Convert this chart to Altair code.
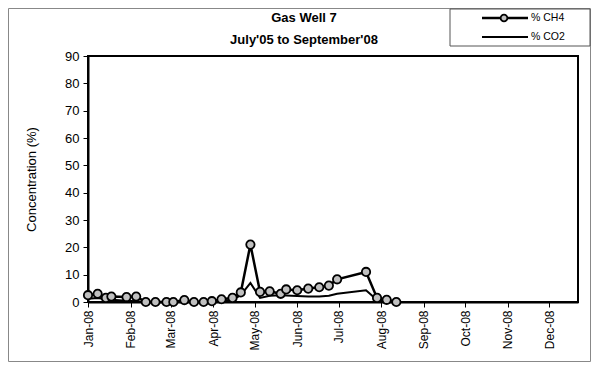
import altair as alt
import pandas as pd

dates = ["2008-01-01", "2008-01-08", "2008-01-14", "2008-01-18", "2008-01-29",
         "2008-02-05", "2008-02-12", "2008-02-19", "2008-02-27", "2008-03-03",
         "2008-03-11", "2008-03-18", "2008-03-25", "2008-03-31", "2008-04-07",
         "2008-04-15", "2008-04-21", "2008-04-28", "2008-05-05", "2008-05-12",
         "2008-05-20", "2008-05-24", "2008-06-01", "2008-06-09", "2008-06-17",
         "2008-06-24", "2008-06-30", "2008-07-21", "2008-07-29", "2008-08-05",
         "2008-08-12"]
ch4 = [2.5, 3.0, 1.5, 2.0, 1.8, 2.0, 0, 0, 0, 0, 0.7, 0, 0, 0.3, 1.0, 1.5, 3.5,
       21.0, 3.7, 3.9, 3.0, 4.6, 4.3, 4.9, 5.4, 6.0, 8.3, 11.0, 1.5, 0.8, 0]
co2 = [1.2, 1.5, 1.0, 0.8, 0.5, 0.3, 0, 0, 0, 0, 0.2, 0, 0, 0, 0.3, 0.8, 2.5,
       7.0, 1.5, 2.3, 2.5, 2.4, 2.2, 2.0, 2.0, 2.3, 3.0, 4.3, 0.7, 0.3, 0]
y_ticks = [0, 10, 20, 30, 40, 50, 60, 70, 80, 90]
month_ticks = [alt.DateTime(year=2008, month=m, date=1, utc=True) for m in range(1, 13)]
title_lines = ["Gas Well 7", "July'05 to September'08"]
legend_labels = ["% CH4", "% CO2"]

df = pd.DataFrame({"date": dates, "ch4": ch4, "co2": co2})

FONT = "Arial, Liberation Sans"

x = alt.X("date:T",
          scale=alt.Scale(type="utc",
                          domain=[alt.DateTime(year=2008, month=1, date=1, utc=True),
                                  alt.DateTime(year=2008, month=12, date=22, utc=True)]),
          axis=alt.Axis(values=month_ticks, labelExpr="utcFormat(datum.value, '%b-%y')",
                        labelAngle=270, labelAlign="right", labelBaseline="middle",
                        labelFontSize=12, labelPadding=3, tickSize=5, tickColor="black",
                        domainColor="black", domainWidth=2, grid=False, title=None,
                        labelColor="black", labelFont=FONT))
yax = alt.Axis(values=y_ticks, labelFontSize=13, tickSize=5, tickColor="black",
               domainColor="black", domainWidth=2, grid=False,
               title="Concentration (%)", titleFontSize=13, titleFontWeight="normal",
               titleFont=FONT, labelFont=FONT, labelColor="black", titleColor="black",
               titlePadding=26, labelPadding=4)

base = alt.Chart(df)
yscale = alt.Scale(domain=[0, 90])

co2_line = base.mark_line(color="black", strokeWidth=2).encode(
    x=x, y=alt.Y("co2:Q", scale=yscale, axis=yax))
ch4_line = base.mark_line(color="black", strokeWidth=2.5).encode(
    x=x, y=alt.Y("ch4:Q", scale=yscale, axis=yax))
ch4_pts = base.mark_point(shape="circle", filled=True, fill="#c0c0c0", stroke="black",
                          strokeWidth=1.8, size=70, opacity=1).encode(
    x=x, y=alt.Y("ch4:Q", scale=yscale, axis=yax))

one = alt.Data(values=[{"k": 1}])

frame = alt.Chart(one).mark_rect(fill=None, stroke="#888888", strokeWidth=1).encode(
    x=alt.value(-79.5), x2=alt.value(502.5), y=alt.value(-47.5), y2=alt.value(305.5))

title_df = pd.DataFrame({"t": title_lines, "y": [-38, -16]})
title_txt = alt.Chart(title_df).mark_text(
    align="center", baseline="middle", fontSize=13, fontWeight="bold", font=FONT,
    color="black").encode(x=alt.value(216), y=alt.Y("y:Q", scale=None, axis=None), text="t:N")

leg_box = alt.Chart(one).mark_rect(fill="white", stroke="#555555", strokeWidth=1).encode(
    x=alt.value(362), x2=alt.value(502), y=alt.value(-47), y2=alt.value(-10))
leg_l1 = alt.Chart(one).mark_rule(color="black", strokeWidth=2.5).encode(
    x=alt.value(394), x2=alt.value(440), y=alt.value(-38))
leg_p1 = alt.Chart(one).mark_point(shape="circle", filled=True, fill="#c0c0c0",
                                   stroke="black", strokeWidth=1.8, size=45, opacity=1).encode(
    x=alt.value(416), y=alt.value(-38))
leg_l2 = alt.Chart(one).mark_rule(color="black", strokeWidth=2).encode(
    x=alt.value(394), x2=alt.value(440), y=alt.value(-19))
leg_t = alt.Chart(pd.DataFrame({"t": legend_labels, "y": [-38, -19]})).mark_text(
    align="left", baseline="middle", fontSize=10.5, font=FONT, color="black").encode(
    x=alt.value(443), y=alt.Y("y:Q", scale=None, axis=None), text="t:N")

chart = alt.layer(frame, co2_line, ch4_line, ch4_pts, title_txt, leg_box, leg_l1, leg_p1,
                  leg_l2, leg_t).properties(
    width=490, height=246,
    padding={"left": 80, "top": 48, "right": 13, "bottom": 60},
    autosize=alt.AutoSizeParams(type="none"),
    background="white",
).configure_view(stroke="black", strokeWidth=2)

chart.save("out.html", embed_options={"renderer": "svg", "actions": False})
